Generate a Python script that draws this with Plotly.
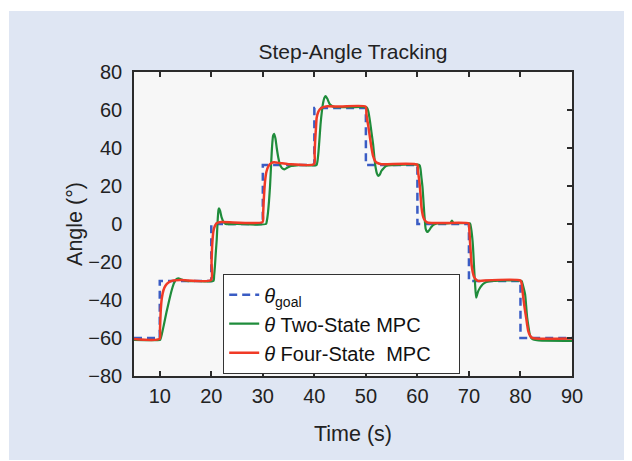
import plotly.graph_objects as go

# ---- data ----
goal_t = [5, 10, 20, 30, 40, 50, 60, 70, 80, 90]
goal_v = [-60, -30, 0, 31, 61, 31, 0, -30, -60, -60]

two_t = [5, 10.0, 10.1, 10.4, 10.8, 11.3, 11.8, 12.3, 12.7, 13.1, 13.6, 14.3, 15.2, 17, 20.4,
         20.55, 20.7, 20.9, 21.05, 21.25, 21.4, 21.5, 21.7, 22.0, 22.4, 22.8, 25, 30.6,
         30.8, 31.0, 31.2, 31.4, 31.6, 31.8, 32.0, 32.2, 32.45, 32.7, 33.0, 33.3, 33.7, 34.2, 34.8, 35.5, 37, 40.4,
         40.6, 40.8, 41.0, 41.2, 41.45, 41.7, 41.95, 42.2, 42.5, 43.0, 43.5, 44, 47, 50.2,
         50.5, 50.8, 51.1, 51.4, 51.65, 51.9, 52.15, 52.4, 52.7, 53.0, 53.5, 54.0, 55, 60.4,
         60.6, 60.8, 61.0, 61.15, 61.3, 61.45, 61.6, 61.8, 62.0, 62.3, 62.7, 63.2, 63.8, 66.4, 66.7, 67.0, 70.2,
         70.4, 70.7, 70.85, 71.0, 71.2, 71.4, 71.6, 71.8, 72.1, 72.4, 72.9, 73.4, 74.6, 80.2,
         80.4, 80.6, 80.9, 81.1, 81.3, 81.55, 81.8, 82.1, 82.5, 83.5, 90]
two_v = [-61, -61, -60.8, -58, -53, -46.5, -40.5, -35, -31.5, -29.3, -28.6, -29.3, -30, -30, -30,
         -27, -22.4, -14, -8.4, 2.6, 7.5, 8.2, 7, 3.5, 1, 0, 0, 0,
         2, 6, 12, 20, 31, 41, 46.5, 47.5, 45, 40, 35, 31.5, 29.5, 28.8, 29.7, 30.5, 31, 31,
         33, 38, 45, 52.5, 59, 63.8, 66.5, 67.3, 66, 63, 62, 61.5, 61.5, 61.3,
         59, 54, 48, 42, 35, 29.6, 26.5, 25.3, 26, 27.9, 29.5, 30.7, 31, 31,
         29, 24, 19, 13, 6.8, 1.5, -2.5, -3.8, -4.2, -3.2, -1.6, -0.3, 0.3, 0.5, 1.8, 0.5, 0.3,
         -2, -8.9, -15, -23, -32, -38.8, -37, -35.3, -33.8, -32.6, -31.3, -30.5, -30, -30,
         -31.5, -33.5, -37, -43, -49.3, -54, -58, -60, -60.8, -61.3, -61.5]

four_t = [5, 9.95, 10.05, 10.2, 10.4, 10.7, 11.1, 11.7, 12.5, 14, 19.95,
          20.05, 20.2, 20.4, 20.7, 21.1, 22, 29.95,
          30.05, 30.15, 30.3, 30.45, 30.7, 31.1, 31.6, 32.2, 33.5, 35, 39.95,
          40.05, 40.15, 40.3, 40.45, 40.75, 41.1, 41.7, 42.5, 45, 49.95,
          50.1, 50.25, 50.5, 50.8, 51.1, 51.4, 51.75, 52.1, 53, 59.95,
          60.1, 60.3, 60.5, 60.8, 61.05, 61.3, 61.7, 62.1, 65, 69.95,
          70.05, 70.2, 70.35, 70.5, 70.75, 71.0, 71.4, 71.8, 73, 80.0,
          80.2, 80.35, 80.55, 80.8, 81.1, 81.3, 81.5, 81.85, 82.2, 83, 90]
four_v = [-60.5, -60.5, -55, -45, -39, -35, -32.5, -30.8, -29.8, -29.5, -29.5,
          -20, -10, -4, -1, 0.5, 1, 1,
          5, 11, 18, 23, 27.5, 30.5, 32, 32.5, 32, 31.5, 31.5,
          37, 43.7, 50, 55.9, 59, 60.5, 61.5, 62, 61.8, 61.8,
          58, 55, 51, 45.4, 40, 35.8, 33.3, 32.3, 31.5, 31.3,
          28, 24, 19, 8.6, 4.5, 2.5, 1.2, 0.7, 0.5, 0.3,
          -2, -8.9, -15, -21.2, -25.5, -27.9, -29.3, -30, -29.7, -29.7,
          -31, -34, -38.8, -44, -49.3, -53, -56.3, -58.7, -59.8, -60.3, -60.3]

x_ticks = [10, 20, 30, 40, 50, 60, 70, 80, 90]
y_ticks = [-80, -60, -40, -20, 0, 20, 40, 60, 80]

FONT = "Liberation Sans, Arial, sans-serif"
AX = "#2b2b2b"

# figure sits at an 8px page offset (default body margin)
W, H = 624, 453
L, R, T, B = 126, 60, 64, 85
PW, PH = W - L - R, H - T - B

fig = go.Figure()
fig.add_trace(go.Scatter(x=goal_t, y=goal_v, mode="lines", line_shape="hv",
                         line=dict(color="#3a5cc4", width=2.5, dash="8px,5px"),
                         name="<i>θ</i><sub>goal</sub>"))
fig.add_trace(go.Scatter(x=two_t, y=two_v, mode="lines", line_shape="spline",
                         line=dict(color="#1f8c3b", width=2.2, smoothing=0.6),
                         name="<i>θ</i> Two-State MPC"))
fig.add_trace(go.Scatter(x=four_t, y=four_v, mode="lines", line_shape="spline",
                         line=dict(color="#f03a26", width=2.5, smoothing=0.6),
                         name="<i>θ</i> Four-State\u00a0 MPC\u00a0\u00a0\u00a0\u00a0"))

fig.update_layout(
    width=W, height=H,
    margin=dict(l=L, r=R, t=T, b=B),
    paper_bgcolor="white",
    plot_bgcolor="#f7f7f7",
    font=dict(family=FONT, size=20, color="#222"),
    title=dict(text="Step-Angle Tracking", x=0.5, xref="paper", xanchor="center",
               y=1 - 44 / H, yref="container", yanchor="middle",
               font=dict(size=21, color="#222")),
    showlegend=True,
    legend=dict(x=(215 - L) / PW, y=(T + PH - 266) / PH, xanchor="left", yanchor="top",
                bgcolor="white", bordercolor="#333", borderwidth=1.2,
                font=dict(size=20, color="#111"), tracegroupgap=0),
    xaxis=dict(range=[5, 90], tickvals=x_ticks, ticks="inside", ticklen=5, tickwidth=1.5,
               tickcolor=AX, showline=True, linecolor=AX, linewidth=1.5, mirror="ticks",
               showgrid=False, zeroline=False, ticklabelstandoff=1,
               title=dict(text="Time (s)", standoff=20, font=dict(size=21.5))),
    yaxis=dict(range=[-80, 80], tickvals=y_ticks, ticks="", showline=True, linecolor=AX,
               linewidth=1.5, showgrid=False, zeroline=False, ticklabelstandoff=6,
               title=dict(text="Angle (°)", standoff=0, font=dict(size=21.5))),
    yaxis2=dict(range=[-80, 80], tickvals=y_ticks, overlaying="y", side="right",
                ticks="inside", ticklen=5, tickwidth=1.5, tickcolor=AX, showticklabels=False,
                showline=True, linecolor=AX, linewidth=1.5, showgrid=False, zeroline=False),
    shapes=[
        dict(type="rect", xref="paper", yref="paper", x0=(1 - L) / PW, x1=1.3,
             y0=(T + PH - 452) / PH, y1=(T + PH - 3) / PH, fillcolor="#dfe6f3",
             line=dict(width=0), layer="below"),
        dict(type="rect", xref="x", yref="y", x0=5, x1=90, y0=-80, y1=80,
             fillcolor="#f7f7f7", line=dict(width=0), layer="below"),
    ],
)
# invisible trace to activate the right-hand axis
fig.add_trace(go.Scatter(x=[5], y=[0], yaxis="y2", mode="markers",
                         marker=dict(opacity=0), showlegend=False, hoverinfo="skip"))

fig.write_html("out.html")
